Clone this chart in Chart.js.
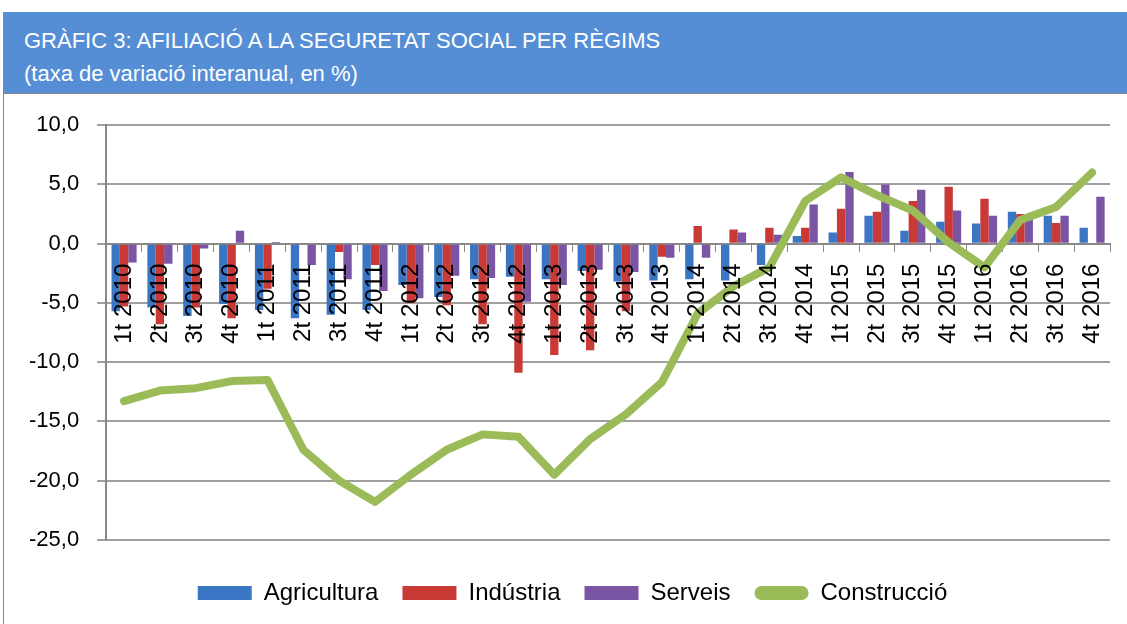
<!DOCTYPE html>
<html>
<head>
<meta charset="utf-8">
<script src="https://cdn.jsdelivr.net/npm/chart.js@4/dist/chart.umd.min.js"></script>
<style>
  body { margin: 0; width: 1127px; height: 624px; overflow: hidden; background: #fff; }
  #header {
    position: absolute; left: 3px; top: 12px; width: 1124px; height: 81px;
    background: #558ed5; color: #fff;
    font-family: "Liberation Sans", Arial, sans-serif; font-size: 22px;
  }
  #header div { position: absolute; left: 21px; white-space: nowrap; }
  #box {
    position: absolute; left: 3px; top: 93px; width: 1130px; height: 540px;
    border: 1px solid #888; box-sizing: border-box;
  }
  #wrap { position: absolute; left: 4px; top: 94px; width: 1123px; height: 530px; }
</style>
</head>
<body>
<div id="header">
  <div style="top:16px">GRÀFIC 3: AFILIACIÓ A LA SEGURETAT SOCIAL PER RÈGIMS</div>
  <div style="top:49px">(taxa de variació interanual, en %)</div>
</div>
<div id="box"></div>
<div id="wrap"><canvas id="myChart"></canvas></div>
<script>
// quarters
const quarters = ['1t 2010','2t 2010','3t 2010','4t 2010','1t 2011','2t 2011','3t 2011','4t 2011',
  '1t 2012','2t 2012','3t 2012','4t 2012','1t 2013','2t 2013','3t 2013','4t 2013',
  '1t 2014','2t 2014','3t 2014','4t 2014','1t 2015','2t 2015','3t 2015','4t 2015',
  '1t 2016','2t 2016','3t 2016','4t 2016'];

const agricultura = [-5.7,-5.4,-6.1,-5.1,-5.6,-6.3,-6.0,-5.6,-3.5,-4.5,-3.0,-2.8,-3.0,-2.3,-3.2,-3.1,
  -3.0,-3.1,-1.8,0.65,0.95,2.35,1.1,1.85,1.7,2.7,2.35,1.35];
const industria = [-5.3,-6.8,-5.4,-6.3,-3.8,-0.1,-0.7,-1.8,-5.0,-5.2,-6.8,-10.9,-9.4,-9.0,-5.7,-1.1,
  1.5,1.2,1.35,1.35,2.95,2.7,3.6,4.8,3.8,2.5,1.75,-0.1];
const serveis = [-1.6,-1.7,-0.4,1.1,0.15,-1.8,-3.0,-4.0,-4.6,-2.7,-2.9,-4.9,-3.5,-2.2,-2.4,-1.2,
  -1.2,0.95,0.75,3.3,6.05,5.0,4.55,2.8,2.35,2.4,2.35,3.95];
const construccio = [-13.3,-12.4,-12.2,-11.6,-11.5,-17.4,-20.0,-21.8,-19.5,-17.4,-16.1,-16.3,-19.5,-16.5,-14.4,-11.7,
  -5.9,-3.6,-2.0,3.6,5.6,4.1,2.8,0.1,-2.0,2.0,3.1,6.0];

const yMin = -25, yMax = 10, yStep = 5;

const fontFam = '"Liberation Sans", Arial, sans-serif';

const data = {
  labels: quarters,
  datasets: [
    { type: 'bar', label: 'Agricultura', data: agricultura, backgroundColor: '#3b76c4', order: 1 },
    { type: 'bar', label: 'Indústria', data: industria, backgroundColor: '#c93a36', order: 1 },
    { type: 'bar', label: 'Serveis', data: serveis, backgroundColor: '#7a55a4', order: 1 },
    { type: 'line', label: 'Construcció', data: construccio, borderColor: '#9bbb59', backgroundColor: '#9bbb59',
      borderWidth: 8, pointRadius: 0, tension: 0, borderCapStyle: 'round', borderJoinStyle: 'round', order: 0 }
  ]
};

// nudge the legend a bit to the right, like the original
const legendShift = {
  id: 'legendShift',
  afterLayout(chart) {
    chart.legend.left += 12;
    chart.legend.right += 12;
  }
};

const config = {
  type: 'bar',
  data: data,
  plugins: [legendShift],
  options: {
    responsive: true,
    maintainAspectRatio: false,
    animation: false,
    datasets: { bar: { categoryPercentage: 0.7, barPercentage: 1.0 } },
    layout: { padding: { top: 30, right: 17, left: 7, bottom: 9 } },
    plugins: {
      legend: {
        position: 'bottom',
        title: { display: true, text: ' ', font: { size: 1 }, padding: { top: 0, bottom: 16 } },
        labels: {
          font: { family: fontFam, size: 24 },
          color: '#000',
          boxWidth: 54,
          boxHeight: 14,
          padding: 24,
          useBorderRadius: true,
          sort: (a, b) => a.datasetIndex - b.datasetIndex,
          generateLabels: (chart) => {
            const items = Chart.defaults.plugins.legend.labels.generateLabels(chart);
            items.forEach((it) => {
              it.lineWidth = 0;
              it.borderRadius = it.text === 'Construcció' ? 7 : 0;
            });
            return items;
          }
        }
      },
      tooltip: { enabled: false }
    },
    scales: {
      x: {
        position: { y: 0 },
        afterFit: (s) => { s.paddingLeft = 0; s.paddingRight = 0; },
        grid: { drawOnChartArea: false, tickLength: 7, color: '#888', offset: true },
        border: { color: '#888', width: 2 },
        ticks: {
          z: 1,
          minRotation: 90, maxRotation: 90, autoSkip: false,
          font: { family: fontFam, size: 24 }, color: '#000', padding: 13
        }
      },
      y: {
        min: yMin, max: yMax,
        grid: { color: '#a0a0a0', lineWidth: 2, tickLength: 9 },
        border: { color: '#888', width: 2 },
        ticks: {
          stepSize: yStep,
          padding: 18,
          font: { family: fontFam, size: 22 }, color: '#000',
          callback: (v) => v.toFixed(1).replace('.', ',')
        }
      }
    }
  }
};

const myChart = new Chart(document.getElementById('myChart'), config);
</script>
</body>
</html>
